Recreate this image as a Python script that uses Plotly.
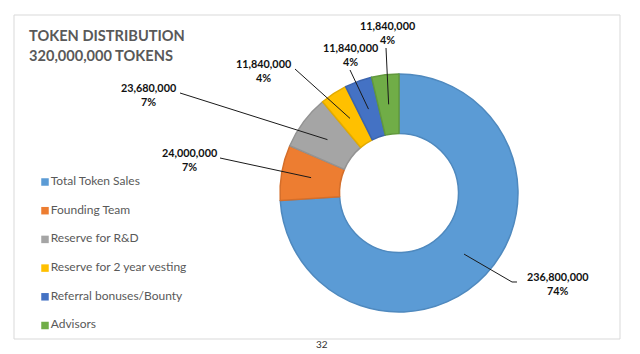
import math
import plotly.graph_objects as go

# ---- data ----
categories = ["Total Token Sales", "Founding Team", "Reserve for R&D",
              "Reserve for 2 year vesting", "Referral bonuses/Bounty", "Advisors"]
tokens = [236800000, 24000000, 23680000, 11840000, 11840000, 11840000]
percent_labels = ["74%", "7%", "7%", "4%", "4%", "4%"]
colors = ["#5B9BD5", "#ED7D31", "#A5A5A5", "#FFC000", "#4472C4", "#70AD47"]
edge_colors = ["#4F89BE", "#D46E2A", "#939393", "#E3AB00", "#3B64AE", "#62993D"]
title_lines = ["TOKEN DISTRIBUTION", "320,000,000 TOKENS"]

W, H = 640, 354
FONT = "Lato"


def px(x):
    return x / W


def py(y):
    return 1 - y / H


# pie geometry (pixels)
CX, CY, R = 399, 193, 119
HOLE = 0.5

# label layout (pixels): text centre, line start, optional elbow
label_layout = [
    dict(text=(557, 283), start=(517, 282), elbow=(512, 282)),
    dict(text=(189, 159.5), start=(220, 158), elbow=None),
    dict(text=(148, 94.5), start=(180, 93), elbow=None),
    dict(text=(263, 70), start=(295, 69), elbow=None),
    dict(text=(350, 54.5), start=(350, 70), elbow=None),
    dict(text=(387, 32), start=(386, 48), elbow=None),
]

total = sum(tokens)

fig = go.Figure()

fig.add_trace(go.Pie(
    labels=categories,
    values=tokens,
    hole=HOLE,
    sort=False,
    direction="clockwise",
    rotation=0,
    textinfo="none",
    marker=dict(colors=colors, line=dict(color=edge_colors, width=1.5)),
    domain=dict(x=[px(CX - R), px(CX + R)], y=[py(CY + R), py(CY - R)]),
    showlegend=False,
    hoverinfo="label+value+percent",
))

# legend drawn as a small scatter on hidden axes
fig.add_trace(go.Scatter(
    x=[0] * len(categories),
    y=list(range(len(categories))),
    mode="markers+text",
    marker=dict(symbol="square", size=7.5, color=colors),
    text=categories,
    textposition="middle right",
    textfont=dict(family=FONT, size=12, color="#595959"),
    hoverinfo="skip",
    showlegend=False,
    cliponaxis=False,
))

shapes = []
annotations = []

# chart border
shapes.append(dict(type="rect", xref="paper", yref="paper",
                   x0=px(14), x1=px(620), y0=py(339), y1=py(15),
                   line=dict(color="#D9D9D9", width=1), layer="below"))

cum = 0
for i, v in enumerate(tokens):
    mid = (cum + v / 2) / total
    cum += v
    theta = 2 * math.pi * mid
    rr = R * (1 + HOLE) / 2
    tx = CX + rr * math.sin(theta)
    ty = CY - rr * math.cos(theta)
    lay = label_layout[i]
    pts = [lay["start"]]
    if lay["elbow"]:
        pts.append(lay["elbow"])
    pts.append((tx, ty))
    path = "M " + " L ".join(f"{px(a):.5f},{py(b):.5f}" for a, b in pts)
    shapes.append(dict(type="path", xref="paper", yref="paper", path=path,
                       line=dict(color="#1a1a1a", width=1)))
    annotations.append(dict(
        xref="paper", yref="paper", x=px(lay["text"][0]), y=py(lay["text"][1]),
        xanchor="center", yanchor="middle", showarrow=False,
        text=f"<b>{v:,}</b><br><b>{percent_labels[i]}</b>",
        font=dict(family=FONT, size=10.8, color="#111111"),
    ))

for line_text, yc in zip(title_lines, [35, 56]):
    annotations.append(dict(
        xref="paper", yref="paper", x=px(27), y=py(yc), xanchor="left", yanchor="middle",
        showarrow=False, text=f"<b>{line_text}</b>",
        font=dict(family=FONT, size=14.6, color="#595959"),
    ))

annotations.append(dict(
    xref="paper", yref="paper", x=px(322), y=py(344), xanchor="center", yanchor="middle",
    showarrow=False, text="32", font=dict(family=FONT, size=10, color="#333333"),
))

n = len(categories)
step = 28.7
y0 = 182
top = y0 - step / 2
bottom = y0 + (n - 1) * step + step / 2

fig.update_layout(
    width=W, height=H,
    margin=dict(l=0, r=0, t=0, b=0),
    paper_bgcolor="white", plot_bgcolor="rgba(0,0,0,0)",
    xaxis=dict(domain=[px(45), px(250)], range=[0, 1], visible=False, fixedrange=True),
    yaxis=dict(domain=[py(bottom), py(top)], range=[n - 0.5, -0.5], visible=False, fixedrange=True),
    shapes=shapes,
    annotations=annotations,
    font=dict(family=FONT),
)

fig.write_html("out.html")
